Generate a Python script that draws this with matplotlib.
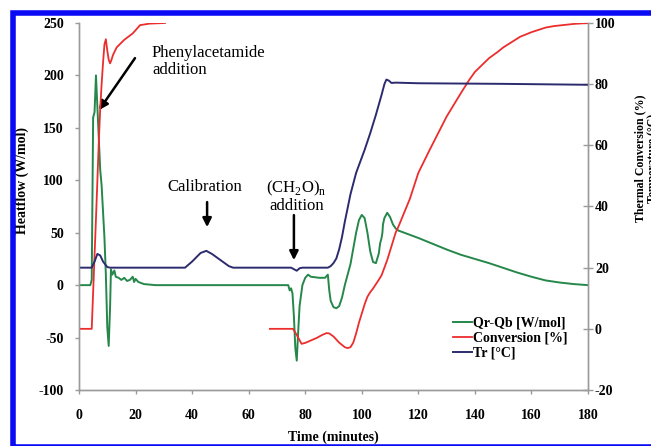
import matplotlib
matplotlib.use("Agg")
import matplotlib.pyplot as plt
from matplotlib.patches import Rectangle

# ---------------- data ----------------
qr_t = [0, 4, 4.5, 5, 5.5, 6, 6.5, 7, 7.5, 8, 8.5, 9, 9.5, 10, 10.5, 11, 11.3, 11.8,
        12.5, 13, 14, 15, 16, 17, 18, 19, 19.5, 20, 21, 22, 23, 25, 27,
        74, 74.5, 75, 75.5, 76, 76.5, 77, 77.5, 78, 79, 80, 81, 82, 85, 87, 88,
        88.5, 89, 90, 91, 92, 93, 94, 95, 96, 97, 98, 99, 100, 101, 102, 103, 104,
        105, 106, 106.5, 107, 107.3, 107.5, 108, 109, 110, 111, 112, 113, 116,
        120, 125, 130, 135, 140, 145, 150, 155, 160, 165, 170, 175, 180]
qr_v = [0, 0, 5, 160, 165, 200, 170, 140, 110, 95, 70, 45, 10, -40, -58, -20, 15, 10,
        14, 8, 7, 5, 7, 4, 5, 8, 3, 6, 3, 2, 1, 0.5, 0,
        0, -5, -3, -8, -30, -60, -72, -45, -20, 0, 7, 10, 8, 7, 7, 10,
        -5, -15, -21, -22, -20, -12, 0, 10, 20, 35, 50, 62, 67, 64, 50, 32, 22,
        21, 30, 40, 45, 50, 58, 64, 69, 65, 58, 54, 52, 49,
        45, 39.5, 34, 29, 25, 21, 16.5, 12, 8, 4.5, 2.5, 1, 0]

conv1_t = [0, 4.5, 5, 6, 7, 7.5, 8, 8.5, 9, 9.5, 10, 10.5, 11, 11.5, 12, 13.3,
           16, 19, 21.6, 25, 30.4]
conv1_v = [0, 0, 12, 36, 61, 72, 80, 87, 93, 94.7, 91, 88, 86.8, 88, 89.5, 92,
           94.5, 96.6, 99.3, 99.8, 100]

conv2_t = [67.5, 75.7, 77, 78.7, 80, 82, 84, 86, 87.5, 88.5, 90, 92, 94, 95, 96, 97,
           98, 99, 100, 101, 102, 103, 104, 105, 106, 107, 108, 109, 110, 111, 112,
           113, 115, 117, 120, 124, 130, 135, 138, 140, 145, 148, 150, 156, 160, 165,
           168, 175, 180]
conv2_v = [0, 0, -2, -4.9, -4.6, -3.8, -3, -2, -1.4, -1.5, -2.5, -4.5, -6, -6.3, -6, -4.5,
           -1.5, 2, 5, 8, 10.5, 12, 13.2, 14.6, 16, 17.5, 20, 22.5, 25.5, 28.5, 31.5,
           33.5, 38, 42.5, 51, 58.5, 69.4, 77, 81.4, 84, 88.5, 90.5, 92, 95.5, 97, 98.5,
           99, 99.7, 100]

tr_t = [0, 4.5, 5.5, 6.5, 7.5, 8.5, 10, 11, 37.5, 40, 43, 45, 47, 50, 53, 54.5,
        75, 76, 77, 78, 79, 88, 89, 90, 91, 92, 93, 94, 96, 98, 100, 101, 103, 105,
        107, 108, 108.7, 109.5, 110.5, 112, 120, 150, 180]
tr_v = [20, 20, 22, 24.5, 24, 22, 20.2, 20, 20, 22, 24.8, 25.5, 24.5, 22.5, 20.5, 20,
        20, 19.5, 19, 19.8, 20, 20, 20.5, 21.5, 23, 26, 30, 35, 44, 51, 56, 58.5, 64, 70,
        76.5, 80, 81.5, 81.2, 80.4, 80.5, 80.3, 80.1, 79.8]

left_ticks = [-100, -50, 0, 50, 100, 150, 200, 250]
right_ticks = [-20, 0, 20, 40, 60, 80, 100]
x_ticks = [0, 20, 40, 60, 80, 100, 120, 140, 160, 180]

# ---------------- style ----------------
SERIF = ["Liberation Serif", "DejaVu Serif"]
plt.rcParams["font.family"] = SERIF
plt.rcParams["mathtext.fontset"] = "custom"
plt.rcParams["mathtext.rm"] = "Liberation Serif"
plt.rcParams["axes.unicode_minus"] = False

GREEN = "#25874a"
RED = "#ec2d2d"
NAVY = "#2c2b6e"
SPINE = "#9a9a9a"

W, H = 651, 446
fig = plt.figure(figsize=(W / 100, H / 100), dpi=100)
ax = fig.add_axes([79 / W, 1 - 390 / H, (588 - 79) / W, (390 - 23) / H])
ax2 = ax.twinx()

lg, = ax.plot(qr_t, qr_v, color=GREEN, lw=1.4, label="Qr-Qb [W/mol]")
lr, = ax2.plot(conv1_t, conv1_v, color=RED, lw=1.3, label="Conversion [%]")
ax2.plot(conv2_t, conv2_v, color=RED, lw=1.3)
lb, = ax2.plot(tr_t, tr_v, color=NAVY, lw=1.4, label="Tr [\u00b0C]")

ax.set_xlim(0, 180)
ax.set_ylim(-100, 250)
ax2.set_ylim(-20, 100)
ax.set_xticks(x_ticks)
ax.set_yticks(left_ticks)
ax2.set_yticks(right_ticks)

for a in (ax, ax2):
    a.spines["top"].set_visible(False)
    for s in ("left", "right", "bottom"):
        a.spines[s].set_color(SPINE)
        a.spines[s].set_linewidth(1.0)
    a.patch.set_visible(False)

ax.tick_params(axis="y", direction="out", length=3, width=1, color=SPINE, pad=8,
               labelsize=10)
ax.tick_params(axis="x", direction="out", length=3, width=1, color=SPINE, pad=11,
               labelsize=10)
ax2.tick_params(axis="y", direction="inout", length=7, width=1, color=SPINE, pad=1.5,
                labelsize=10)
for lbl in ax.get_xticklabels() + ax.get_yticklabels() + ax2.get_yticklabels():
    lbl.set_fontweight("bold")

ax.set_xlabel("Time (minutes)", fontsize=10, fontweight="bold", labelpad=6)
ax.set_ylabel("Heatflow (W/mol)", fontsize=10, fontweight="bold")
ax.yaxis.set_label_coords((22.7 - 79) / 509, (390 - 181) / 367)
ax.yaxis.label.set_va("center")

fig.text(646.5 / W, 1 - 158 / H, "Thermal Conversion (%)\nTemperature (\u00b0C)",
         rotation=90, ha="center", va="center", fontsize=8.5, fontweight="bold",
         linespacing=1.15, multialignment="center")

# legend
leg = ax.legend(handles=[lg, lr, lb], loc="center left",
                bbox_to_anchor=((453 - 79) / 509, (390 - 338) / 367),
                frameon=False, borderpad=0, borderaxespad=0, handlelength=1.35,
                handletextpad=0.1, labelspacing=0.15,
                prop={"family": SERIF, "weight": "bold", "size": 10})

# annotations
arrow = dict(arrowstyle="-|>", color="black", lw=1.8, mutation_scale=13,
             shrinkA=0, shrinkB=0)
ax.text(25.8, 229, "Phenylacetamide\naddition", ha="left", va="top", fontsize=12,
        linespacing=1.05)
ax.annotate("", xy=(7.1, 167), xytext=(19.8, 216.5), arrowprops=arrow)

ax.text(44.6, 93.5, "Calibration", ha="center", va="center", fontsize=12)
ax.annotate("", xy=(45.3, 55.3), xytext=(45.3, 79.2), arrowprops=arrow)

ax.text(77, 85, "(CH$_\\mathregular{2}$O)$_\\mathregular{n}$\naddition", ha="center",
        va="center", fontsize=12, linespacing=1.0)
ax.annotate("", xy=(76, 23.8), xytext=(76, 66.8), arrowprops=arrow)

# blue frame
fig.patches.append(Rectangle((12.5 / W, 1 - 446.5 / H), 1.2, (446.5 - 12.5) / H,
                             transform=fig.transFigure, fill=False,
                             edgecolor="#0a0af5", lw=4.0, figure=fig))

fig.savefig("out.png", dpi=100)
